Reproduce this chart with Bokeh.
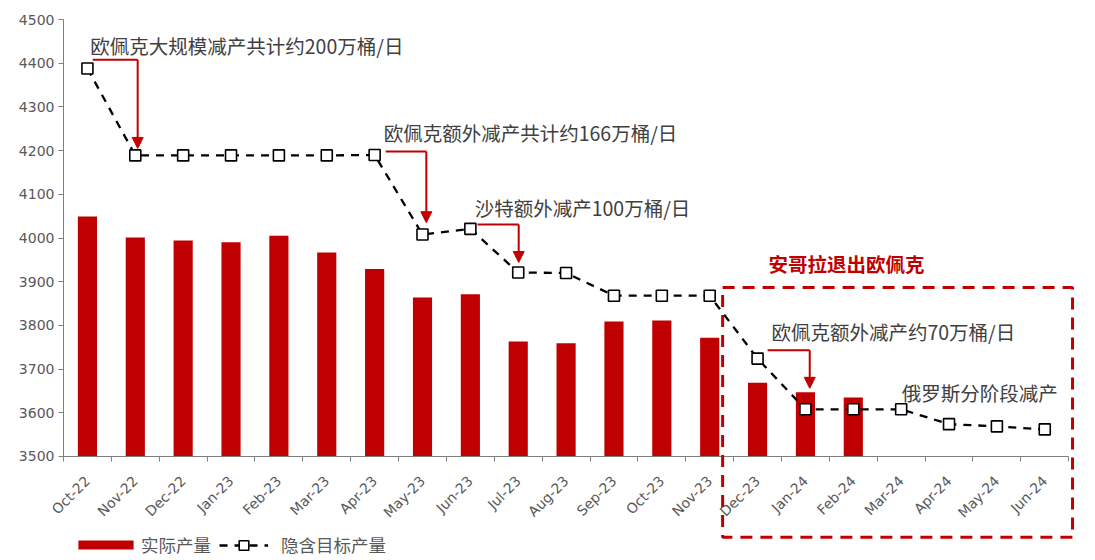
from math import pi
from bokeh.plotting import figure
from bokeh.models import (ColumnDataSource, Range1d, FixedTicker, Label, Arrow,
                          NormalHead, BoxAnnotation, Legend, LegendItem)
from bokeh.embed import file_html
from bokeh.resources import INLINE

# ---------------- data ----------------
months = ["Oct-22", "Nov-22", "Dec-22", "Jan-23", "Feb-23", "Mar-23", "Apr-23",
          "May-23", "Jun-23", "Jul-23", "Aug-23", "Sep-23", "Oct-23", "Nov-23",
          "Dec-23", "Jan-24", "Feb-24", "Mar-24", "Apr-24", "May-24", "Jun-24"]
actual = [4049, 4001, 3994, 3990, 4005, 3967, 3929, 3864, 3871, 3763, 3759,
          3809, 3811, 3772, 3669, 3647, 3635]
target = [4388, 4189, 4189, 4189, 4189, 4189, 4190, 4008, 4021, 3921, 3920,
          3868, 3868, 3868, 3724, 3608, 3608, 3608, 3574, 3569, 3562]
y_ticks = [3500, 3600, 3700, 3800, 3900, 4000, 4100, 4200, 4300, 4400, 4500]
legend_labels = ["实际产量", "隐含目标产量"]

# annotations: text, x (category units), y
notes = [
    ("欧佩克大规模减产共计约200万桶/日", 0.06, 4440),
    ("欧佩克额外减产共计约166万桶/日", 6.19, 4241),
    ("沙特额外减产100万桶/日", 8.09, 4070),
    ("欧佩克额外减产约70万桶/日", 14.29, 3786),
    ("俄罗斯分阶段减产", 17.01, 3646),
]
box_title = ("安哥拉退出欧佩克", 14.23, 3942)
# elbow arrows: x start, x corner, horizontal y, tip y
arrows = [
    (0.11, 1.05, 4408, 4205),
    (6.23, 7.08, 4198, 4035),
    (8.15, 9.01, 4031, 3944),
    (14.21, 15.09, 3743, 3656),
]

RED = "#C00000"
GREY = "#595959"
FONT = "Noto Sans CJK SC"

x_all = list(range(len(months)))
bar_src = ColumnDataSource(dict(x=x_all[:len(actual)], y=actual))
line_src = ColumnDataSource(dict(x=x_all, y=target))

# the frame covers the whole canvas; axes are pinned at the data edges so the
# dashed box and the rotated labels can reach outside the data area
p = figure(width=1095, height=560, output_backend="svg", toolbar_location=None,
           x_range=Range1d(-1.816, 21.06), y_range=Range1d(3262, 4543.5),
           min_border_left=0, min_border_right=0, min_border_top=0,
           min_border_bottom=0)
p.outline_line_color = None
p.xgrid.visible = False
p.ygrid.visible = False
p.background_fill_color = "white"

bars = p.vbar(x="x", top="y", bottom=y_ticks[0], width=0.4, source=bar_src,
              fill_color=RED, line_color=None)
ln = p.line("x", "y", source=line_src, line_color="black", line_width=2.3,
            line_dash="8 7")
mk = p.scatter("x", "y", source=line_src, marker="square", size=11,
               fill_color="white", line_color="black", line_width=1.6)

# axes
yax = p.yaxis[0]
yax.fixed_location = -0.5
yax.ticker = FixedTicker(ticks=y_ticks)
yax.bounds = (y_ticks[0], y_ticks[-1])
yax.axis_line_color = "#7f7f7f"
yax.major_tick_line_color = "#7f7f7f"
yax.major_tick_in = 0
yax.major_tick_out = 5
yax.minor_tick_line_color = None
yax.major_label_text_font = "DejaVu Sans"
yax.major_label_text_font_size = "14px"
yax.major_label_text_color = GREY
yax.major_label_standoff = 4

xax = p.xaxis[0]
xax.fixed_location = y_ticks[0]
xax.bounds = (-0.5, len(months) - 0.5)
xax.ticker = FixedTicker(ticks=x_all,
                         minor_ticks=[i - 0.5 for i in range(len(months) + 1)])
xax.major_label_overrides = {i: m for i, m in enumerate(months)}
xax.axis_line_color = "#7f7f7f"
xax.major_tick_line_color = None
xax.minor_tick_line_color = "#7f7f7f"
xax.minor_tick_in = 0
xax.minor_tick_out = 5
xax.major_label_orientation = pi / 4
xax.major_label_text_font = "DejaVu Sans"
xax.major_label_text_font_size = "14px"
xax.major_label_text_color = GREY
xax.major_label_standoff = 16

# annotations
for txt, x, y in notes:
    p.add_layout(Label(x=x, y=y, text=txt, text_font=FONT, text_font_size="19.5px",
                       text_color="#404040", text_baseline="middle",
                       text_align="left"))
p.add_layout(Label(x=box_title[1], y=box_title[2], text=box_title[0],
                   text_font=FONT, text_font_size="19.5px", text_font_style="bold",
                   text_color=RED, text_baseline="middle", text_align="left"))

for x0, x1, yh, ytip in arrows:
    p.add_layout(Arrow(x_start=x0, y_start=yh, x_end=x1, y_end=yh,
                       line_color=RED, line_width=2, end=None))
    p.add_layout(Arrow(x_start=x1, y_start=yh, x_end=x1, y_end=ytip,
                       line_color=RED, line_width=2,
                       end=NormalHead(size=11, fill_color=RED, line_color=RED)))

p.add_layout(BoxAnnotation(left=13.27, right=20.58, top=3887, bottom=3315,
                           fill_alpha=0, line_color=RED, line_alpha=1,
                           line_width=3, line_dash="12 8"))

# legends (positions relative to the frame's bottom-left corner)
leg1 = Legend(items=[LegendItem(label=legend_labels[0], renderers=[bars])],
              location=(71, 3), glyph_width=69, glyph_height=11,
              label_height=11, label_text_font=FONT, label_text_font_size="17.5px",
              label_text_color=GREY, border_line_color=None,
              background_fill_alpha=0, padding=0, margin=0, label_standoff=1)
leg2 = Legend(items=[LegendItem(label=legend_labels[1], renderers=[ln, mk])],
              location=(219, 3), glyph_width=49, glyph_height=24,
              label_height=24, label_text_font=FONT, label_text_font_size="17.5px",
              label_text_color=GREY, border_line_color=None,
              background_fill_alpha=0, padding=0, margin=0, label_standoff=13)
p.add_layout(leg1, "center")
p.add_layout(leg2, "center")

open("out.html", "w").write(file_html(p, INLINE))
